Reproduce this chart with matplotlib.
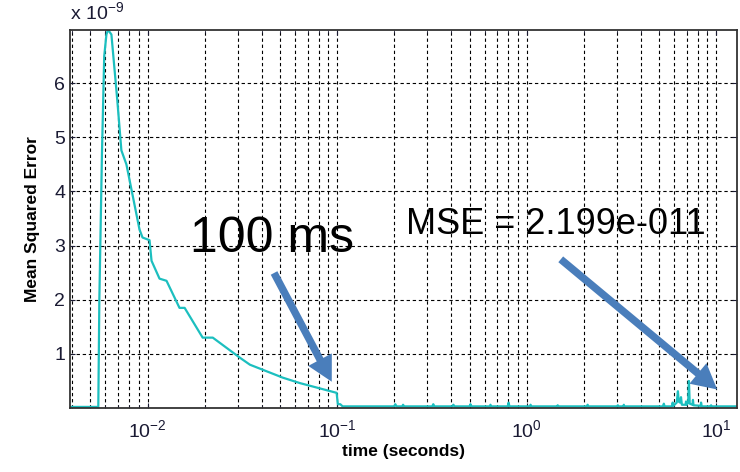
import numpy as np
import matplotlib.pyplot as plt
from matplotlib.ticker import LogLocator, NullFormatter

plt.rcParams['font.family'] = ['Liberation Sans', 'DejaVu Sans']
plt.rcParams['mathtext.default'] = 'regular'

# time (s) and mean squared error (x 1e-9)
t = [0.0039, 0.0055, 0.00557, 0.00575, 0.00591, 0.00607, 0.0062, 0.0063, 0.00645,
     0.00693, 0.00728, 0.00774, 0.00907, 0.00941, 0.01025, 0.0105, 0.01157, 0.0126,
     0.01475, 0.0157, 0.01954, 0.0221, 0.0307, 0.0347, 0.0518, 0.0637, 0.0995,
     0.101, 0.104, 0.107,
     0.200, 0.203, 0.206, 0.221, 0.223, 0.226, 0.318, 0.322, 0.326, 0.405, 0.411,
     0.417, 0.50, 0.506, 0.512, 0.64, 0.645, 0.65, 0.795, 0.804, 0.812, 1.04, 1.05,
     1.06, 1.45, 1.46, 1.47, 2.08, 2.10, 2.12, 3.0, 3.03, 3.06, 3.24, 3.26, 3.28,
     5.25, 5.3, 5.35, 5.85, 5.9, 5.95, 6.2, 6.29, 6.35, 6.45, 6.53, 6.6, 6.9, 6.94,
     7.0, 7.12, 7.19, 7.26, 7.5, 7.55, 7.6, 8.3, 8.33, 8.4, 9.35, 9.41, 9.5, 13.0]
mse = [0.02, 0.02, 2.0, 4.7, 6.5, 6.9, 7.0, 6.95, 6.9,
       5.68, 4.76, 4.5, 3.3, 3.15, 3.1, 2.72, 2.39, 2.35,
       1.85, 1.85, 1.3, 1.3, 0.93, 0.8, 0.56, 0.46, 0.28,
       0.07, 0.07, 0.03,
       0.03, 0.07, 0.03, 0.03, 0.06, 0.03, 0.03, 0.07, 0.03, 0.03, 0.06,
       0.03, 0.03, 0.07, 0.03, 0.03, 0.06, 0.03, 0.03, 0.1, 0.03, 0.03, 0.06,
       0.03, 0.03, 0.05, 0.03, 0.03, 0.06, 0.03, 0.03, 0.05, 0.03, 0.03, 0.06, 0.03,
       0.03, 0.08, 0.03, 0.03, 0.1, 0.04, 0.1, 0.31, 0.12, 0.1, 0.2, 0.06, 0.06, 0.12,
       0.06, 0.1, 0.5, 0.08, 0.06, 0.15, 0.05, 0.04, 0.1, 0.03, 0.03, 0.05, 0.03, 0.03]

yticks = [1, 2, 3, 4, 5, 6]
xticks = [1e-2, 1e-1, 1e0, 1e1]
xtick_labels = ['$10^{-2}$', '$10^{-1}$', '$10^{0}$', '$10^{1}$']

fig = plt.figure(figsize=(7.4, 4.72), dpi=100)
ax = fig.add_axes([0.0946, 0.1356, 0.9014, 0.8004])

ax.plot(t, mse, color='#1cbfbf', lw=1.6)
ax.set_xscale('log')
ax.set_xlim(0.0039, 12.9)
ax.set_ylim(0, 6.98)
ax.set_yticks(yticks)
ax.set_xticks(xticks)
ax.set_xticklabels(xtick_labels)
ax.xaxis.set_minor_locator(LogLocator(base=10, subs=np.arange(2, 10)))
ax.xaxis.set_minor_formatter(NullFormatter())
ax.tick_params(which='both', direction='in', labelsize=14, colors='#1a1a33',
               top=True, right=True)
ax.tick_params(axis='x', pad=8)
ax.grid(True, which='major', color='black', ls=(0, (3, 2.5)), lw=0.8)
ax.grid(True, which='minor', axis='x', color='black', ls=(0, (3, 2.5)), lw=0.8)
for s in ax.spines.values():
    s.set_color('#333333')
    s.set_linewidth(1.3)

ax.set_xlabel('time (seconds)', fontsize=12.5, fontweight='bold', labelpad=2)
ax.set_ylabel('Mean Squared Error', fontsize=12.5, fontweight='bold', labelpad=10)
fig.text(0.0946, 0.975, r'x $10^{-9}$', fontsize=14, color='#1a1a33', va='center')

ax.text(0.0453, 3.12, '100 ms', fontsize=36, ha='center', va='center')
ax.text(1.42, 3.39, 'MSE = 2.199e-011', fontsize=26, ha='center', va='center')
arrow_style = dict(arrowstyle='simple,head_width=1.6,head_length=1.5,tail_width=0.45',
                   color='#4a7ebb', lw=0)
ax.annotate('', xy=(0.0953, 0.44), xytext=(0.0458, 2.54),
            arrowprops=dict(arrow_style, mutation_scale=12))
ax.annotate('', xy=(10.4, 0.31), xytext=(1.476, 2.78),
            arrowprops=dict(arrow_style, mutation_scale=12))

fig.savefig('out.png', dpi=100)
